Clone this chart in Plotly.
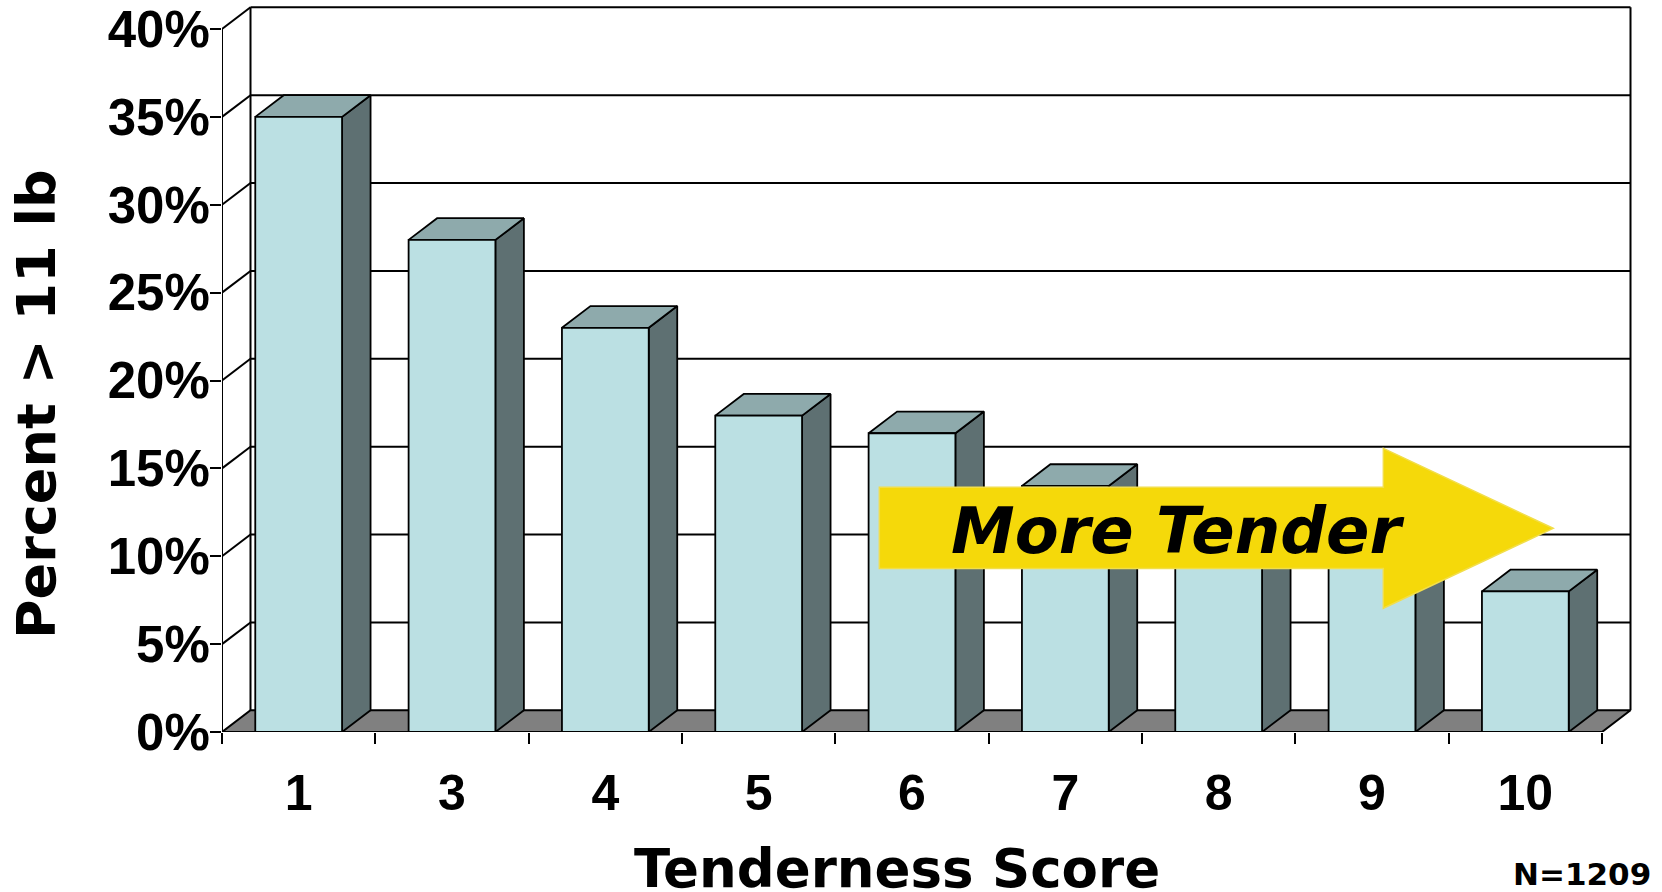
import plotly.graph_objects as go

# Tenderness score categories and share of steaks with shear force > 11 lb
scores = ["1", "3", "4", "5", "6", "7", "8", "9", "10"]
pct_over_11lb = [35, 28, 23, 18, 17, 14, 11, 10, 8]
y_ticks = [0, 5, 10, 15, 20, 25, 30, 35, 40]
y_tick_text = [f"{v}%" for v in y_ticks]
sample_note = "N=1209"

# page / plot geometry (pixels)
W, H = 1662, 892
ML, MR, MT, MB = 222, 30, 2, 160
PX_X = 153.333          # pixels per category slot
PX_Y = 17.575           # pixels per percentage point
plot_w = W - ML - MR
plot_h = H - MT - MB
x_range = [-0.5, -0.5 + plot_w / PX_X]
y_range = [0, plot_h / PX_Y]

# pseudo-3D depth offset, in data units
DX = 28.5 / PX_X
DY = 21.7 / PX_Y
HALF = 0.283            # half width of a column's front face

FRONT = "#BBE0E3"
TOP = "#8EAAAC"
SIDE = "#5E7072"
FLOOR = "#808080"
ARROW = "#F5D90A"
LW = 2


def px_to_paper_x(px):
    return (px - ML) / plot_w


def px_to_paper_y(py):
    return (H - MB - py) / plot_h


def poly(xs, ys, fill, lw=LW):
    return go.Scatter(
        x=list(xs) + [xs[0]], y=list(ys) + [ys[0]],
        mode="lines", fill="toself", fillcolor=fill,
        line=dict(color="black", width=lw),
        hoverinfo="skip", showlegend=False,
    )


def lines(segments, lw=LW):
    xs, ys = [], []
    for (x0, y0), (x1, y1) in segments:
        xs += [x0, x1, None]
        ys += [y0, y1, None]
    return go.Scatter(x=xs, y=ys, mode="lines",
                      line=dict(color="black", width=lw),
                      hoverinfo="skip", showlegend=False)


n = len(scores)
x0, x1 = -0.5, n - 0.5
top = y_ticks[-1]

fig = go.Figure()

# floor
fig.add_trace(poly([x0, x1, x1 + DX, x0 + DX], [0, 0, DY, DY], FLOOR))

# back wall gridlines, side wall diagonals and frame
segs = []
for v in y_ticks[1:]:
    segs.append(((x0 + DX, v + DY), (x1 + DX, v + DY)))
    segs.append(((x0, v), (x0 + DX, v + DY)))
segs.append(((x0 + DX, DY), (x0 + DX, top + DY)))
segs.append(((x1 + DX, DY), (x1 + DX, top + DY)))
segs.append(((x0, 0), (x0, top)))
fig.add_trace(lines(segs))

# columns
for i, v in enumerate(pct_over_11lb):
    xl, xr = i - HALF, i + HALF
    fig.add_trace(poly([xr, xr + DX, xr + DX, xr], [0, DY, v + DY, v], SIDE, 1.8))
    fig.add_trace(poly([xl, xr, xr + DX, xl + DX], [v, v, v + DY, v + DY], TOP, 1.8))
    fig.add_trace(poly([xl, xr, xr, xl], [0, 0, v, v], FRONT, 1.8))

# "More Tender" arrow
ax0, ax1, atip = 3.787, 7.074, 8.182
ab_top, ab_bot, ah_top, ah_bot, a_mid = 13.92, 9.31, 16.14, 7.04, 11.59
arrow_path = (f"M {ax0},{ab_top} L {ax1},{ab_top} L {ax1},{ah_top} L {atip},{a_mid} "
              f"L {ax1},{ah_bot} L {ax1},{ab_bot} L {ax0},{ab_bot} Z")
fig.add_shape(type="path", path=arrow_path, xref="x", yref="y",
              fillcolor=ARROW, line=dict(color="#F2DE4A", width=1.5), layer="above")

fig.add_annotation(text="<i>More Tender</i>", x=px_to_paper_x(949), y=px_to_paper_y(531),
                   xref="paper", yref="paper", xanchor="left", yanchor="middle",
                   showarrow=False,
                   font=dict(family="DejaVu Sans", size=64, color="black", weight="bold",
                             style="italic"))

fig.add_annotation(text="Percent > 11 lb", x=px_to_paper_x(36), y=px_to_paper_y(404),
                   xref="paper", yref="paper", textangle=-90, showarrow=False,
                   xanchor="center", yanchor="middle",
                   font=dict(family="DejaVu Sans", size=54, color="black", weight="bold"))

fig.add_annotation(text="Tenderness Score", x=px_to_paper_x(897), y=px_to_paper_y(868),
                   xref="paper", yref="paper", showarrow=False,
                   xanchor="center", yanchor="middle",
                   font=dict(family="DejaVu Sans", size=53, color="black", weight="bold"))

fig.add_annotation(text=sample_note, x=px_to_paper_x(1582), y=px_to_paper_y(874),
                   xref="paper", yref="paper", showarrow=False,
                   xanchor="center", yanchor="middle",
                   font=dict(family="DejaVu Sans", size=31, color="black", weight="bold"))

fig.update_layout(
    width=W, height=H,
    margin=dict(l=ML, r=MR, t=MT, b=MB, pad=0, autoexpand=False),
    plot_bgcolor="white", paper_bgcolor="white",
    showlegend=False,
    xaxis=dict(
        range=x_range, showgrid=False, zeroline=False, showline=False,
        tickmode="array", tickvals=list(range(n)), ticktext=scores,
        ticks="", automargin=False, ticklabelstandoff=27,
        tickfont=dict(family="Liberation Sans", size=50, color="black", weight="bold"),
        minor=dict(tickmode="array", tickvals=[i - 0.5 for i in range(n + 1)],
                   ticks="outside", ticklen=11, tickwidth=2, tickcolor="black"),
        fixedrange=True,
    ),
    yaxis=dict(
        range=y_range, showgrid=False, zeroline=False, showline=False,
        tickmode="array", tickvals=y_ticks, ticktext=y_tick_text,
        ticks="outside", ticklen=11, tickwidth=2, tickcolor="black",
        automargin=False, ticklabelstandoff=-10,
        tickfont=dict(family="Liberation Sans", size=51, color="black", weight="bold"),
        fixedrange=True,
    ),
)

fig.write_html("out.html")
